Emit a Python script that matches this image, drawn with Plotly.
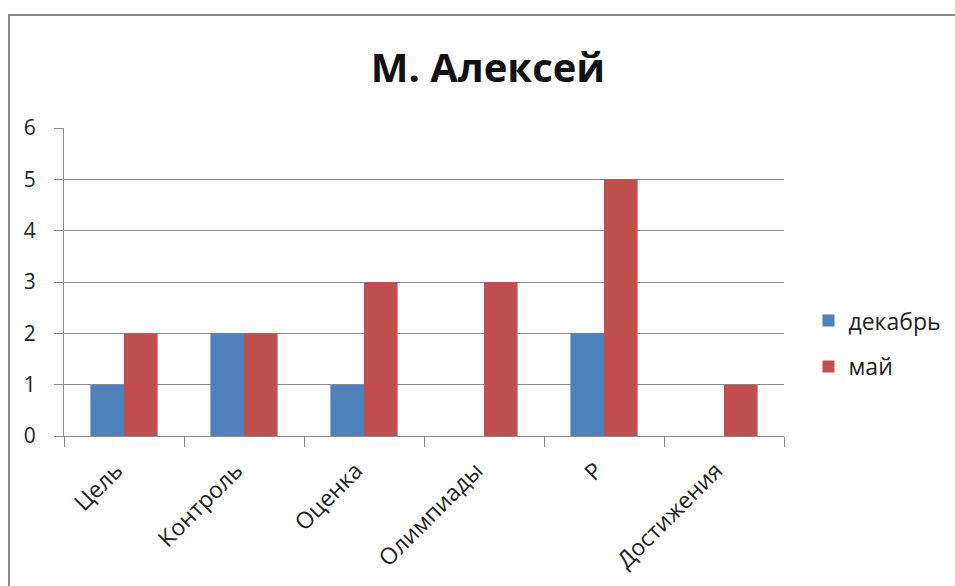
import plotly.graph_objects as go

categories = ["Цель", "Контроль", "Оценка", "Олимпиады", "Р", "Достижения"]
dec_values = [1, 2, 1, 0, 2, 0]
may_values = [2, 2, 3, 3, 5, 1]
series_names = ["декабрь", "май"]
y_ticks = [0, 1, 2, 3, 4, 5, 6]

FONT = "Open Sans, Lato, sans-serif"

fig = go.Figure()
fig.add_trace(go.Bar(x=categories, y=dec_values, name=series_names[0],
                     marker=dict(color="#4F81BD", line=dict(width=0)), legendgroup="a"))
fig.add_trace(go.Bar(x=categories, y=may_values, name=series_names[1],
                     marker=dict(color="#C0504D", line=dict(width=0)), legendgroup="b"))

fig.update_layout(
    width=955, height=586,
    margin=dict(l=64, r=171, t=128, b=150, autoexpand=False),
    paper_bgcolor="white", plot_bgcolor="white",
    barmode="group", bargap=0.44, bargroupgap=0,
    font=dict(family=FONT, color="#222222"),
    title=dict(text="<b>М. Алексей</b>", x=0.511, xanchor="center", y=0.884, yanchor="middle",
               font=dict(size=40, color="#111111", family=FONT)),
    legend=dict(x=1.034, y=0.30, xanchor="left", yanchor="middle",
                font=dict(size=23, color="#222222"), tracegroupgap=13,
                itemsizing="constant"),
    xaxis=dict(type="category", showline=True, linecolor="#8c8c8c", linewidth=1,
               ticks="outside", tickson="boundaries", ticklen=10, tickcolor="#8c8c8c",
               tickangle=-45, ticklabelshift=-8, ticklabelstandoff=11,
               tickfont=dict(size=23, color="#222222"), showgrid=False),
    yaxis=dict(range=[0, 6], tickvals=y_ticks, showline=True, linecolor="#8c8c8c", linewidth=1,
               ticks="outside", ticklen=9, tickcolor="#8c8c8c", ticklabelstandoff=14,
               showgrid=True, gridcolor="#8c8c8c", gridwidth=1,
               tickfont=dict(size=21, color="#222222"), zeroline=False),
    shapes=[dict(type="rect", xref="paper", yref="paper",
                 x0=-0.0764, x1=2.0, y0=-2.0, y1=1.367,
                 line=dict(color="#8a8a8a", width=2), fillcolor="rgba(0,0,0,0)", layer="below")],
)

fig.write_html("out.html", config={"displayModeBar": False},
               post_script="document.body.style.margin='0';")
